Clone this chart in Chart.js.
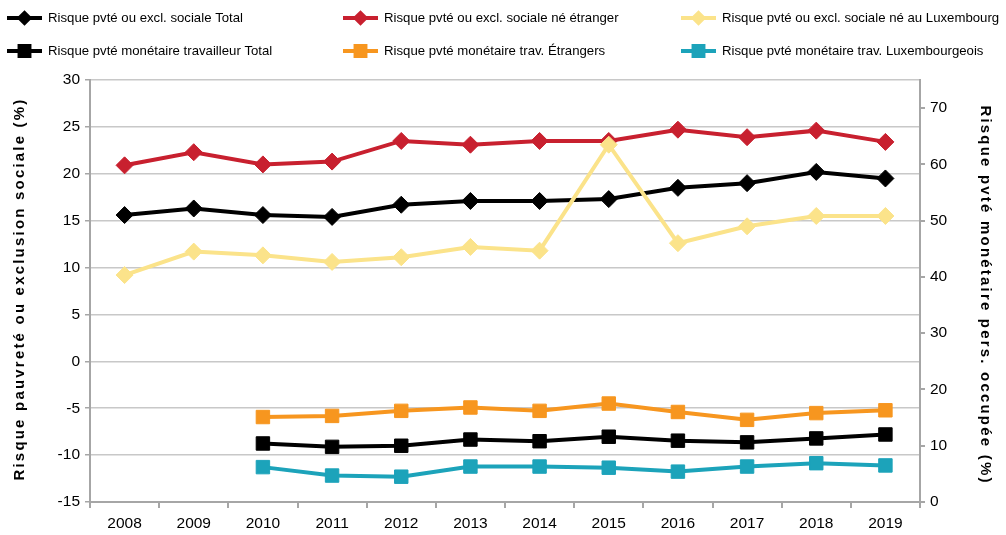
<!DOCTYPE html>
<html>
<head>
<meta charset="utf-8">
<script src="https://cdn.jsdelivr.net/npm/chart.js@4.4.1/dist/chart.umd.min.js"></script>
<style>
  html, body { margin: 0; padding: 0; background: #fff; }
  #wrap { width: 1006px; height: 535px; }
</style>
</head>
<body>
<div id="wrap"><canvas id="chart" width="1006" height="535"></canvas></div>
<script>
// Chart data
const years = ['2008', '2009', '2010', '2011', '2012', '2013', '2014', '2015', '2016', '2017', '2018', '2019'];

// left axis: risque pauvreté ou exclusion sociale (%)
const aropeTotal      = [15.6, 16.3, 15.6, 15.4, 16.7, 17.1, 17.1, 17.3, 18.5, 19.0, 20.2, 19.5];
const aropeForeign    = [20.9, 22.3, 21.0, 21.3, 23.5, 23.1, 23.5, 23.5, 24.7, 23.9, 24.6, 23.4];
const aropeLuxBorn    = [9.2, 11.7, 11.3, 10.6, 11.1, 12.2, 11.8, 23.1, 12.6, 14.4, 15.5, 15.5];

// right axis: risque pvté monétaire pers. occupée (%)
const inworkTotal     = [null, null, 10.4, 9.8, 10.0, 11.1, 10.8, 11.6, 10.9, 10.6, 11.3, 12.0];
const inworkForeign   = [null, null, 15.1, 15.3, 16.2, 16.8, 16.2, 17.5, 16.0, 14.6, 15.8, 16.3];
const inworkLux       = [null, null, 6.2, 4.7, 4.5, 6.3, 6.3, 6.1, 5.4, 6.3, 6.9, 6.5];

const leftTicks  = [-15, -10, -5, 0, 5, 10, 15, 20, 25, 30];
const rightTicks = [0, 10, 20, 30, 40, 50, 60, 70];

const leftTitle  = 'Risque pauvreté ou exclusion sociale (%)';
const rightTitle = 'Risque pvté monétaire pers. occupée (%)';

const FONT = '"Liberation Sans", Arial, sans-serif';

// legend laid out in 3 columns x 2 rows above the plot
const legendCols = [7, 343, 681];
const legendRows = [18, 51];

const cornerLegend = {
    id: 'cornerLegend',
    afterDraw(chart) {
        const ctx = chart.ctx;
        ctx.save();
        ctx.font = '13.2px ' + FONT;
        ctx.textBaseline = 'middle';
        ctx.textAlign = 'left';
        chart.data.datasets.forEach((ds, i) => {
            const x = legendCols[i % 3];
            const y = legendRows[Math.floor(i / 3)];
            ctx.strokeStyle = ds.borderColor;
            ctx.lineWidth = 4;
            ctx.beginPath();
            ctx.moveTo(x, y);
            ctx.lineTo(x + 35, y);
            ctx.stroke();
            ctx.fillStyle = ds.pointBackgroundColor;
            ctx.strokeStyle = ds.pointBackgroundColor;
            Chart.helpers.drawPoint(ctx, {
                pointStyle: ds.pointStyle,
                radius: ds.pointStyle === 'rect' ? 7 : 5,
                borderWidth: 1,
                rotation: 0
            }, x + 17.5, y);
            ctx.fillStyle = '#000';
            ctx.fillText(ds.label, x + 41, y);
        });
        ctx.restore();
    }
};

// spaced-out bold axis titles
const axisTitles = {
    id: 'axisTitles',
    afterDraw(chart) {
        const ctx = chart.ctx;
        const area = chart.chartArea;
        const midY = (area.top + area.bottom) / 2;
        ctx.save();
        ctx.font = 'bold 15px ' + FONT;
        ctx.letterSpacing = '2.2px';
        ctx.fillStyle = '#000';
        ctx.textAlign = 'center';
        ctx.textBaseline = 'middle';

        ctx.save();
        ctx.translate(20, midY - 2);
        ctx.rotate(-Math.PI / 2);
        ctx.fillText(leftTitle, 0, 0);
        ctx.restore();

        ctx.save();
        ctx.translate(985, midY + 4);
        ctx.rotate(Math.PI / 2);
        ctx.fillText(rightTitle, 0, 0);
        ctx.restore();

        ctx.restore();
    }
};

function series(label, data, color, axis, style, order) {
    return {
        label: label,
        data: data,
        yAxisID: axis,
        borderColor: color,
        backgroundColor: color,
        pointBackgroundColor: color,
        pointBorderColor: color,
        borderWidth: 4,
        pointStyle: style,
        pointRadius: style === 'rect' ? 9.5 : 8.5,
        pointHoverRadius: style === 'rect' ? 9.5 : 8.5,
        pointBorderWidth: 1,
        tension: 0,
        spanGaps: false,
        order: order
    };
}

new Chart(document.getElementById('chart').getContext('2d'), {
    type: 'line',
    data: {
        labels: years,
        datasets: [
            series('Risque pvté ou excl. sociale Total', aropeTotal, '#000000', 'y', 'rectRot', 3),
            series('Risque pvté ou excl. sociale né étranger', aropeForeign, '#c8202f', 'y', 'rectRot', 2),
            series('Risque pvté ou excl. sociale né au Luxembourg', aropeLuxBorn, '#fbe38a', 'y', 'rectRot', 1),
            series('Risque pvté monétaire travailleur Total', inworkTotal, '#000000', 'y2', 'rect', 5),
            series('Risque pvté monétaire trav. Étrangers', inworkForeign, '#f7961f', 'y2', 'rect', 4),
            series('Risque pvté monétaire trav. Luxembourgeois', inworkLux, '#1ca3ba', 'y2', 'rect', 6)
        ]
    },
    options: {
        responsive: false,
        animation: false,
        maintainAspectRatio: false,
        layout: { padding: { top: 80, left: 0, right: 0, bottom: 0 } },
        plugins: {
            legend: { display: false },
            tooltip: { enabled: false }
        },
        scales: {
            x: {
                offset: true,
                grid: { offset: true, drawOnChartArea: false, color: '#a6a6a6', lineWidth: 2, tickLength: 6 },
                border: { color: '#a6a6a6', width: 2 },
                ticks: { color: '#000', font: { family: FONT, size: 15.5 }, padding: 6, maxRotation: 0 },
                afterFit: function(scale) { scale.height = 33; }
            },
            y: {
                position: 'left',
                min: -15,
                max: 30,
                afterBuildTicks: function(scale) { scale.ticks = leftTicks.map(v => ({ value: v })); },
                grid: { color: '#c8c8c8', lineWidth: 1.5, tickLength: 5, tickColor: '#a6a6a6' },
                border: { color: '#a6a6a6', width: 2 },
                ticks: { color: '#000', font: { family: FONT, size: 15.5 }, padding: 5 },
                afterFit: function(scale) { scale.width = 90; }
            },
            y2: {
                position: 'right',
                min: 0,
                max: 75,
                afterBuildTicks: function(scale) { scale.ticks = rightTicks.map(v => ({ value: v })); },
                grid: { drawOnChartArea: false, tickLength: 5, color: '#a6a6a6', lineWidth: 2 },
                border: { color: '#a6a6a6', width: 2 },
                ticks: { color: '#000', font: { family: FONT, size: 15.5 }, padding: 5 },
                afterFit: function(scale) { scale.width = 86; }
            }
        }
    },
    plugins: [cornerLegend, axisTitles]
});
</script>
</body>
</html>
